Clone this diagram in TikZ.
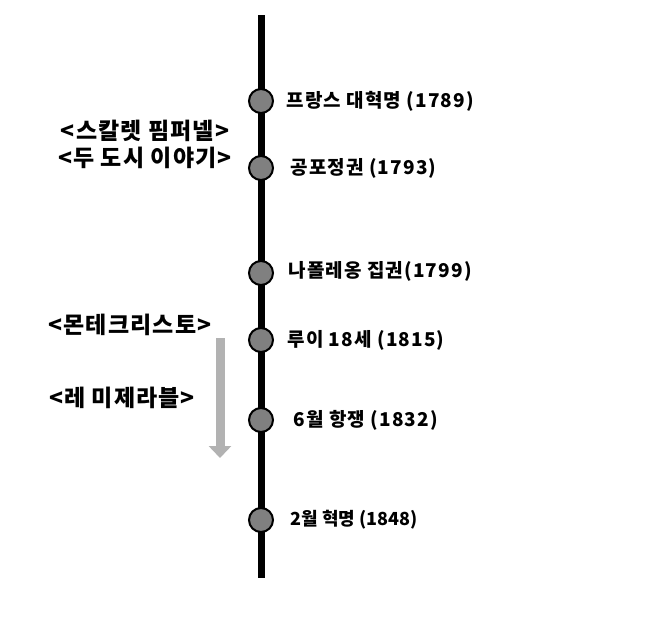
\documentclass[tikz,border=0pt]{standalone}
\usepackage{fontspec}
\setmainfont{Noto Sans CJK KR}
\newfontfamily\kfont{Noto Sans CJK KR}
\newfontfamily\kwidefont[LetterSpace=6]{Noto Sans CJK KR}
\newfontfamily\knovelfont[LetterSpace=5]{Noto Sans CJK KR}
\usetikzlibrary{arrows.meta}
\begin{document}
\begin{tikzpicture}[x=1pt, y=-1pt, thick,
    dot node/.style={circle, draw, line width=2pt, fill=black!50, minimum size=24pt, inner sep=0pt},
    event node/.style={anchor=west, font=\kwidefont\bfseries\fontsize{19}{22}\selectfont, inner sep=0pt},
    novel node/.style={font=\knovelfont\bfseries\fontsize{23}{26}\selectfont, inner sep=0pt}]

                \useasboundingbox (0, 0) rectangle (650, 629);

                \coordinate (top) at (261, 15);
                \coordinate (bottom) at (261, 578);
                \draw[line width=7pt] (top) -- (bottom);

                \node[dot node] at (261, 101) (d1789) {};
                \node[dot node] at (261, 168) (d1793) {};
                \node[dot node] at (261, 273) (d1799) {};
                \node[dot node] at (261, 340) (d1815) {};
                \node[dot node] at (261, 420) (d1832) {};
                \node[dot node] at (261, 520) (d1848) {};

                \node[event node] at (286, 101) (e1789) {프랑스 대혁명 (1789)};
                \node[event node] at (290, 168) (e1793) {공포정권 (1793)};
                \node[event node] at (288, 271) (e1799) {나폴레옹 집권(1799)};
                \node[event node] at (287, 340) (e1815) {루이 18세 (1815)};
                \node[event node] at (293, 420) (e1832) {6월 항쟁 (1832)};
                \node[event node, font=\kfont\bfseries\fontsize{18}{21}\selectfont] at (290, 520) (e1848) {2월 혁명 (1848)};

                \node[novel node] at (145, 131) (pimpernel) {<스칼렛 핌퍼넬>};
                \node[novel node] at (145, 158) (cities) {<두 도시 이야기>};
                \node[novel node] at (130, 325) (monte) {<몬테크리스토>};
                \node[novel node] at (122, 398) (miserables) {<레 미제라블>};

                \coordinate (from) at (220, 338);
                \coordinate (to) at (220, 458);
                \draw[-{Triangle[width=22pt, length=12pt]}, line width=9pt, black!30] (from) -- (to);
            \end{tikzpicture}
\end{document}
